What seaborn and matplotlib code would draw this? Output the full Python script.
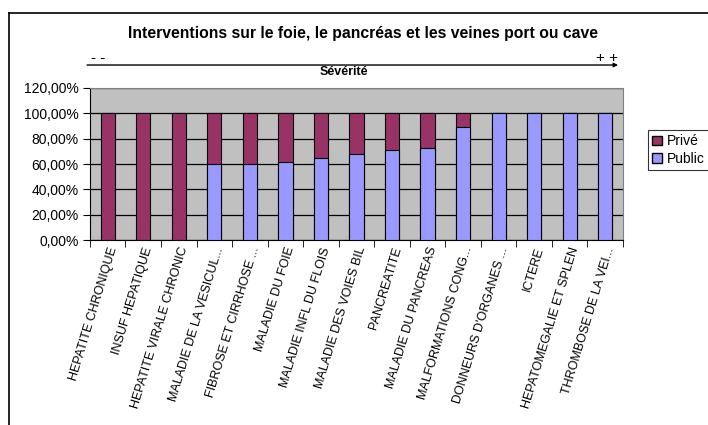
import pandas as pd
import matplotlib
matplotlib.use("Agg")
import matplotlib.pyplot as plt
from matplotlib.lines import Line2D
from matplotlib.patches import Patch
from matplotlib.ticker import FuncFormatter, FixedLocator
import seaborn as sb

# data
categories = [
    "HEPATITE CHRONIQUE", "INSUF HEPATIQUE", "HEPATITE VIRALE CHRONIC",
    "MALADIE DE LA VESICUL...", "FIBROSE ET CIRRHOSE ...", "MALADIE DU FOIE",
    "MALADIE INFL DU FLOIS", "MALADIE DES VOIES BIL", "PANCREATITE",
    "MALADIE DU PANCREAS", "MALFORMATIONS CONG...", "DONNEURS D'ORGANES ...",
    "ICTERE", "HEPATOMEGALIE ET SPLEN", "THROMBOSE DE LA VEI...",
]
public = [0, 0, 0, 60, 60, 62, 65, 68, 71, 73, 89, 100, 100, 100, 100]
prive = [100, 100, 100, 40, 40, 38, 35, 32, 29, 27, 11, 0, 0, 0, 0]

df = pd.DataFrame({"cat": categories, "Public": public, "Privé": prive})
df["total"] = df["Public"] + df["Privé"]

plt.rcParams["font.family"] = ["Liberation Sans", "DejaVu Sans"]

fig = plt.figure(figsize=(7.08, 4.25), dpi=100)
ax = fig.add_axes([0.127, 0.435, 0.753, 0.358])
ax.set_facecolor("#C0C0C0")

# stacked bars: total in Privé colour, public on top
sb.barplot(data=df, x="cat", y="total", color="#993366", width=0.4,
           edgecolor="black", linewidth=0.8, saturation=1, ax=ax, zorder=3)
sb.barplot(data=df, x="cat", y="Public", color="#9999FF", width=0.4,
           edgecolor="black", linewidth=0.8, saturation=1, ax=ax, zorder=4)

ax.set_xlim(-0.5, len(categories) - 0.5)
ax.set_ylim(0, 120)
ax.set_yticks([0, 20, 40, 60, 80, 100, 120])
ax.yaxis.set_major_formatter(FuncFormatter(lambda v, p: f"{v:.2f}".replace(".", ",") + "%"))
ax.grid(axis="y", color="black", linewidth=0.9, zorder=1)
ax.set_axisbelow(True)
ax.set_xlabel("")
ax.set_ylabel("")

for s in ["top", "right"]:
    ax.spines[s].set_color("#808080")
for s in ["left", "bottom"]:
    ax.spines[s].set_color("black")

ax.tick_params(axis="y", labelsize=10, length=5, direction="out", color="black", pad=3)
ax.tick_params(axis="x", which="major", length=0, pad=4)
ax.xaxis.set_minor_locator(FixedLocator([i - 0.5 for i in range(len(categories) + 1)]))
ax.tick_params(axis="x", which="minor", length=5, direction="out", color="black")
ax.set_xticks(range(len(categories)))
ax.set_xticklabels(categories, rotation=73, ha="right", rotation_mode="anchor", fontsize=9)

# titles and severity arrow
fig.text(0.513, 0.922, "Interventions sur le foie, le pancréas et les veines port ou cave",
         ha="center", va="center", fontsize=11.3, fontweight="bold")
fig.text(0.139, 0.864, "- -", ha="center", va="center", fontsize=11)
fig.text(0.857, 0.864, "+ +", ha="center", va="center", fontsize=11)
fig.text(0.486, 0.831, "Sévérité", ha="center", va="center", fontsize=9, fontweight="bold")
ax.annotate("", xy=(0.873, 0.847), xytext=(0.123, 0.847), xycoords="figure fraction",
            arrowprops=dict(arrowstyle="-|>", lw=1, color="black", mutation_scale=6,
                            shrinkA=0, shrinkB=0))

# chart border
fig.add_artist(Line2D([0.0127, 1.0], [0.969, 0.969], color="black", lw=1.2))
fig.add_artist(Line2D([0.0127, 0.0127], [0.0, 0.969], color="black", lw=1.2))

# legend
handles = [Patch(facecolor="#993366", edgecolor="black", label="Privé"),
           Patch(facecolor="#9999FF", edgecolor="black", label="Public")]
leg = fig.legend(handles=handles, loc="upper left", bbox_to_anchor=(0.905, 0.71),
                 fontsize=10, frameon=True, fancybox=False, handlelength=0.7,
                 handleheight=0.7, handletextpad=0.4, borderpad=0.3, labelspacing=0.25)
leg.get_frame().set_edgecolor("black")
leg.get_frame().set_linewidth(0.8)

fig.savefig("out.png", dpi=100)
